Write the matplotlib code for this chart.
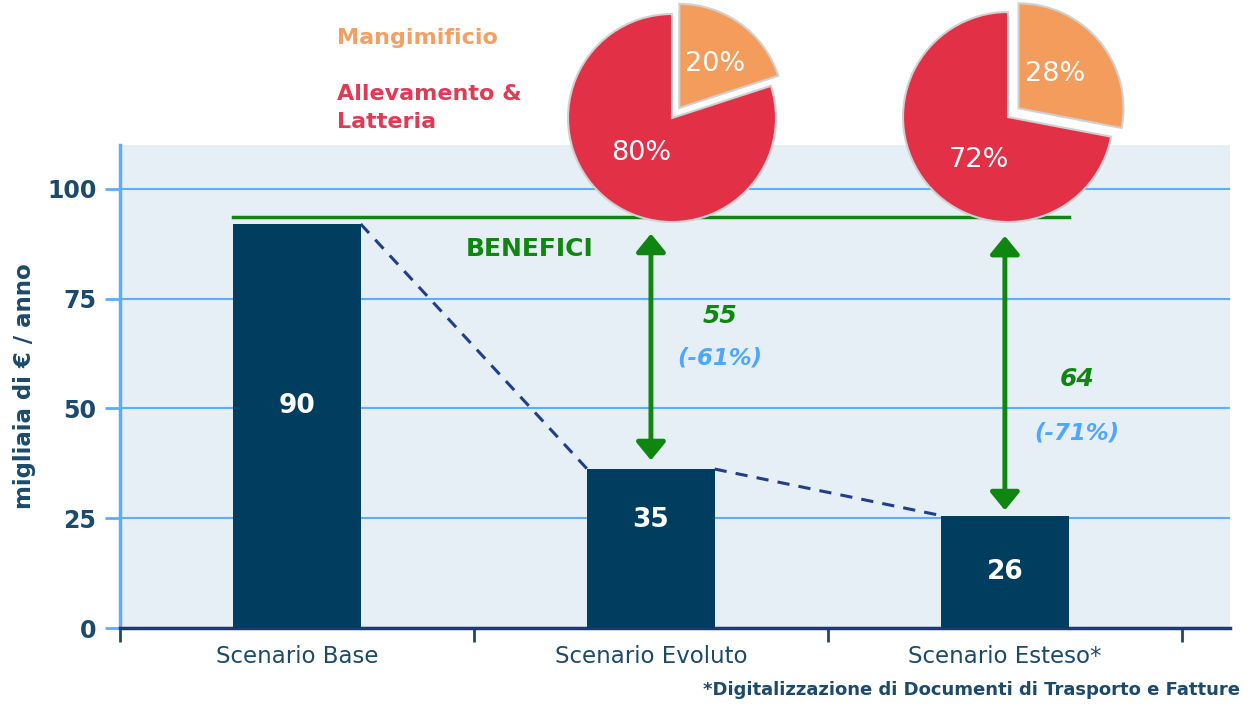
import matplotlib
matplotlib.use("Agg")
import matplotlib.pyplot as plt

# ---- data ----
categories = ["Scenario Base", "Scenario Evoluto", "Scenario Esteso*"]
bar_heights = [92.0, 36.2, 25.6]          # heights as drawn in the picture
bar_labels = ["90", "35", "26"]
benefit_level = 93.5
benefit_values = ["55", "64"]
benefit_pcts = ["(-61%)", "(-71%)"]
pie_labels = ["Mangimificio", "Allevamento &\nLatteria"]
pie1_shares = [20, 80]
pie2_shares = [28, 72]
yticks = [0, 25, 50, 75, 100]
footnote = "*Digitalizzazione di Documenti di Trasporto e Fatture"

# ---- colours ----
NAVY_BAR = "#003D5E"
NAVY_TXT = "#1B4A6B"
GRID = "#5AAEFF"
BG = "#E6EEF6"
GREEN = "#0F860F"
LBLUE = "#4DA6FF"
RED = "#E23047"
ORANGE = "#F39C5B"

W, H = 1249, 708
fig = plt.figure(figsize=(W / 100, H / 100), dpi=100)
fig.patch.set_facecolor("white")

# main axes in pixel coordinates
L, R, T, B = 120, 1230, 145, 628
ax = fig.add_axes([L / W, (H - B) / H, (R - L) / W, (B - T) / H])
ax.set_facecolor(BG)
ax.set_ylim(0, 110)
ax.set_xlim(-0.5, 2.636)

x = list(range(len(categories)))
ax.bar(x, bar_heights, width=0.36, color=NAVY_BAR, zorder=3)
label_frac = [0.55, 0.68, 0.5]
for xi, h, lab, f in zip(x, bar_heights, bar_labels, label_frac):
    ax.text(xi, h * f, lab, color="white", fontsize=19, fontweight="bold",
            ha="center", va="center", zorder=4)

# grid
ax.set_yticks(yticks)
ax.set_yticklabels([str(t) for t in yticks])
ax.yaxis.grid(True, color=GRID, lw=1.5, zorder=0)
ax.set_axisbelow(True)
ax.tick_params(axis="y", colors=GRID, length=11, width=2, labelsize=17,
               labelcolor=NAVY_TXT, pad=6)
for t in ax.get_yticklabels():
    t.set_fontweight("bold")

# x ticks: boundaries as major ticks, labels as minor
ax.set_xticks([-0.5, 0.5, 1.5, 2.5])
ax.set_xticklabels([])
ax.set_xticks(x, minor=True)
ax.set_xticklabels(categories, minor=True)
ax.tick_params(axis="x", which="major", colors=NAVY_TXT, length=10, width=2)
ax.tick_params(axis="x", which="minor", length=0, labelsize=16.5,
               labelcolor=NAVY_TXT, pad=12)

for s in ["top", "right"]:
    ax.spines[s].set_visible(False)
ax.spines["left"].set_color(GRID)
ax.spines["left"].set_linewidth(2.5)
ax.spines["bottom"].set_color("#1F3A6E")
ax.spines["bottom"].set_linewidth(2.5)

ax.set_ylabel("migliaia di € / anno", fontsize=16.5, fontweight="bold",
              color=NAVY_TXT, labelpad=8)

# dashed connectors between bar tops
hw = 0.18
ax.plot([0 + hw, 1 - hw], [bar_heights[0], bar_heights[1]], ls=(0, (4, 3)),
        color="#1F3F8A", lw=2.2, zorder=2)
ax.plot([1 + hw, 2 - hw], [bar_heights[1], bar_heights[2]], ls=(0, (4, 3)),
        color="#1F3F8A", lw=2.2, zorder=2)

# benefits line
ax.plot([0 - hw, 2 + hw], [benefit_level, benefit_level], color=GREEN, lw=2.5, zorder=3)
ax.text(0.658, 86.4, "BENEFICI", color=GREEN, fontsize=18, fontweight="bold",
        ha="center", va="center", zorder=4)

# arrows
arrow_tops = [89.8, 89.3]
arrow_bottoms = [38.2, 26.8]
txt_x = [1.195, 2.203]
val_y = [71.1, 56.8]
pct_y = [61.4, 44.3]
for i, xi in enumerate([1, 2]):
    ax.annotate("", xy=(xi, arrow_bottoms[i]), xytext=(xi, arrow_tops[i]),
                arrowprops=dict(arrowstyle="<|-|>,head_length=0.55,head_width=0.45",
                                color=GREEN, lw=3.5, shrinkA=0, shrinkB=0,
                                mutation_scale=20),
                zorder=5)
    ax.text(txt_x[i], val_y[i], benefit_values[i], color=GREEN, fontsize=18,
            fontweight="bold", fontstyle="italic", ha="center", va="center")
    ax.text(txt_x[i], pct_y[i], benefit_pcts[i], color=LBLUE, fontsize=16.5,
            fontstyle="italic", fontweight="semibold", ha="center", va="center")

# pies
def add_pie(cx, cy, r, shares, explode, text_pos):
    s = 1.25 * r
    pax = fig.add_axes([(cx - s) / W, (H - cy - s) / H, 2 * s / W, 2 * s / H],
                       zorder=10)
    wedges, texts, autotexts = pax.pie(
        shares, colors=[ORANGE, RED], startangle=90, counterclock=False,
        explode=[explode, 0], autopct="%d%%", pctdistance=0.5,
        wedgeprops=dict(edgecolor="#D0D0D0", linewidth=1.5),
        textprops=dict(color="white", fontsize=19.5))
    for at, pos in zip(autotexts, text_pos):
        at.set_position(pos)
    pax.set_xlim(-1.25, 1.25)
    pax.set_ylim(-1.25, 1.25)
    pax.set_aspect("equal")
    return pax

add_pie(672, 118, 104, pie1_shares, 0.12, [(0.413, 0.519), (-0.298, -0.337)])
add_pie(1008, 117, 105, pie2_shares, 0.13, [(0.448, 0.41), (-0.276, -0.41)])

# pie legend texts
fig.text(337 / W, 1 - 38 / H, pie_labels[0], color="#F4A064", fontsize=16,
         fontweight="bold", ha="left", va="center")
fig.text(337 / W, 1 - 108 / H, pie_labels[1], color="#E03A54", fontsize=16,
         fontweight="bold", ha="left", va="center", linespacing=1.55)

fig.text(1240 / W, 1 - 690 / H, footnote, color=NAVY_TXT, fontsize=13,
         fontweight="bold", ha="right", va="center")

fig.savefig("out.png", dpi=100)
